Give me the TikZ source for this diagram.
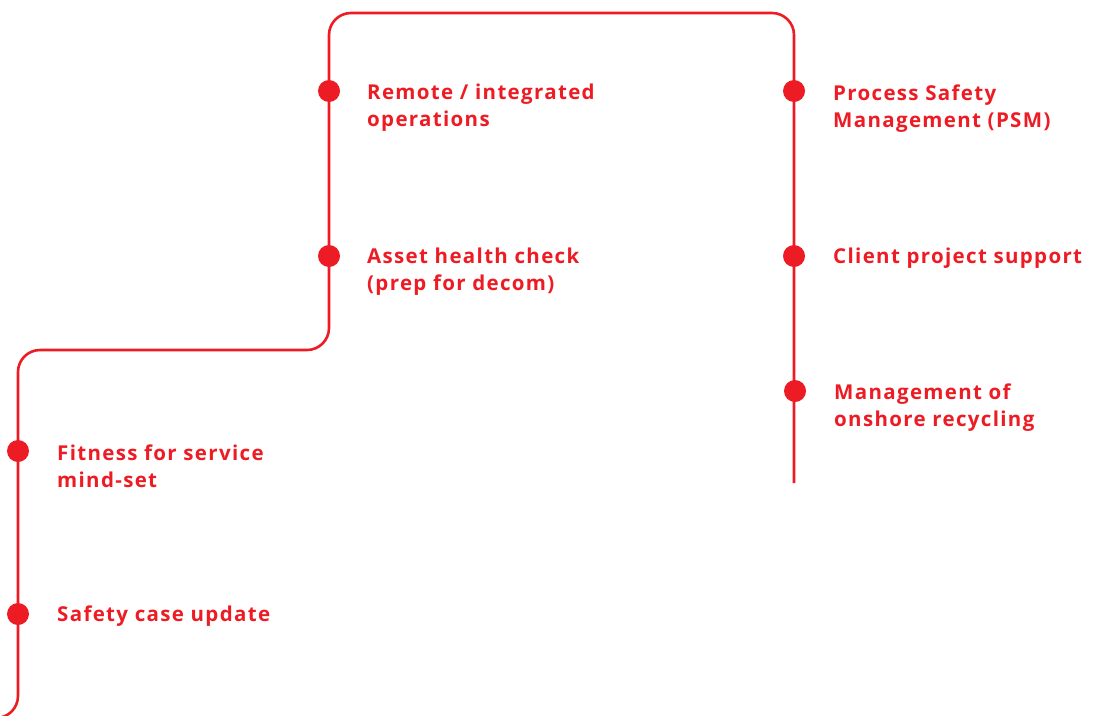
\documentclass[tikz,border=0pt]{standalone}
\usepackage{fontspec}
\setmainfont{Open Sans}[LetterSpace=6.5]
\definecolor{abbred}{HTML}{ED1C24}
\begin{document}
\begin{tikzpicture}[x=1pt,y=-1pt,
  track/.style={draw=abbred,line width=2.6pt,rounded corners=22pt},
  dot/.style={circle,fill=abbred,inner sep=0pt,minimum size=22pt},
  lbl/.style={anchor=west,inner sep=0pt,align=left,text=abbred,font=\fontsize{20.5}{27}\selectfont\bfseries}]
\useasboundingbox (0,0) rectangle (1094,715);
\coordinate (c0) at (-30,718);
\coordinate (c1) at (18,718);
\coordinate (c2) at (18,350);
\coordinate (c3) at (329,350);
\coordinate (c4) at (329,13);
\coordinate (c5) at (794,13);
\coordinate (c6) at (794,483);
\draw[track] (c0) -- (c1) -- (c2) -- (c3) -- (c4) -- (c5) -- (c6);
\node[dot] (d1) at (18,614) {};
\node[dot] (d2) at (18,451) {};
\node[dot] (d3) at (329,256) {};
\node[dot] (d4) at (329,91) {};
\node[dot] (d5) at (794,91) {};
\node[dot] (d6) at (794,256) {};
\node[dot] (d7) at (795,391) {};
\node[lbl] (t1) at (57,616) {Safety case update};
\node[lbl] (t2) at (57,466.5) {Fitness for service\\mind-set};
\node[lbl] (t3) at (367,271.5) {Asset health check\\(prep for decom)};
\node[lbl] (t4) at (367,107.5) {Remote / integrated\\operations};
\node[lbl] (t5) at (833,108.5) {Process Safety\\Management (PSM)};
\node[lbl] (t6) at (833,258) {Client project support};
\node[lbl] (t7) at (834,407.5) {Management of\\onshore recycling};
\end{tikzpicture}
\end{document}
